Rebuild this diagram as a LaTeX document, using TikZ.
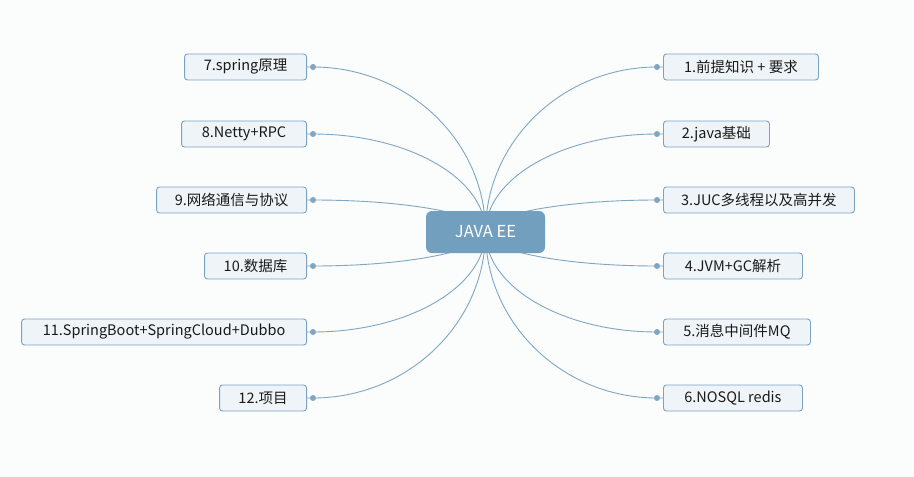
\documentclass[tikz,border=0pt]{standalone}
\usepackage{fontspec}
\setmainfont{Noto Sans CJK SC}
\usetikzlibrary{calc,backgrounds}
\definecolor{bg}{HTML}{FBFCFC}
\definecolor{boxfill}{HTML}{EEF4F8}
\definecolor{boxline}{HTML}{7BA3C1}
\definecolor{conn}{HTML}{7FA6C3}
\definecolor{hub}{HTML}{739FBF}
\definecolor{txt}{HTML}{1A1A1A}
\tikzset{
  topic/.style={draw=boxline, fill=boxfill, line width=0.9pt, rounded corners=3pt,
    minimum height=26pt, inner sep=0pt, text=txt, font=\fontsize{14.5}{16}\selectfont},
  hubbox/.style={fill=hub, rounded corners=6pt, minimum width=119pt, minimum height=42pt,
    inner sep=0pt, text=white, font=\fontsize{16.5}{18}\selectfont},
  link/.style={draw=conn, line width=0.9pt},
  dot/.style={fill=conn}
}
\newcommand{\branch}[2]{%
  \draw[link] (jv.center) .. controls ($(jv.center)!0.55!(jv.center|-#1)$) and ($(#1)!0.55!(#1-|jv.center)$) .. (#1) -- (#2);
  \fill[dot] (#1) circle (3pt);
}
\begin{document}
\begin{tikzpicture}[x=1pt,y=-1pt]
\useasboundingbox (0,0) rectangle (914,477);
\node[hubbox] (jv) at (485.5,232) {JAVA EE};
% right
\node[topic, anchor=west, minimum width=155pt] (b1) at (663,67) {1.前提知识 + 要求};
\node[topic, anchor=west, minimum width=106pt] (b2) at (663,134) {2.java基础};
\node[topic, anchor=west, minimum width=191pt] (b3) at (663,200) {3.JUC多线程以及高并发};
\node[topic, anchor=west, minimum width=139pt] (b4) at (663,266) {4.JVM+GC解析};
\node[topic, anchor=west, minimum width=147pt] (b5) at (663,332) {5.消息中间件MQ};
\node[topic, anchor=west, minimum width=139pt] (b6) at (663,398) {6.NOSQL redis};
% left
\node[topic, anchor=east, minimum width=122pt] (b7) at (307,67) {7.spring原理};
\node[topic, anchor=east, minimum width=125pt] (b8) at (307,134) {8.Netty+RPC};
\node[topic, anchor=east, minimum width=150pt] (b9) at (307,200) {9.网络通信与协议};
\node[topic, anchor=east, minimum width=102pt] (b10) at (307,266) {10.数据库};
\node[topic, anchor=east, minimum width=285pt] (b11) at (307,332) {11.SpringBoot+SpringCloud+Dubbo};
\node[topic, anchor=east, minimum width=87pt] (b12) at (307,398) {12.项目};
\foreach \i in {1,...,6} {\coordinate (d\i) at ([xshift=-6pt]b\i.west);}
\foreach \i in {7,...,12} {\coordinate (d\i) at ([xshift=6pt]b\i.east);}
\begin{scope}[on background layer]
  \fill[bg] (0,0) rectangle (914,477);
  \branch{d1}{b1.west}
  \branch{d2}{b2.west}
  \branch{d3}{b3.west}
  \branch{d4}{b4.west}
  \branch{d5}{b5.west}
  \branch{d6}{b6.west}
  \branch{d7}{b7.east}
  \branch{d8}{b8.east}
  \branch{d9}{b9.east}
  \branch{d10}{b10.east}
  \branch{d11}{b11.east}
  \branch{d12}{b12.east}
\end{scope}
\end{tikzpicture}
\end{document}
